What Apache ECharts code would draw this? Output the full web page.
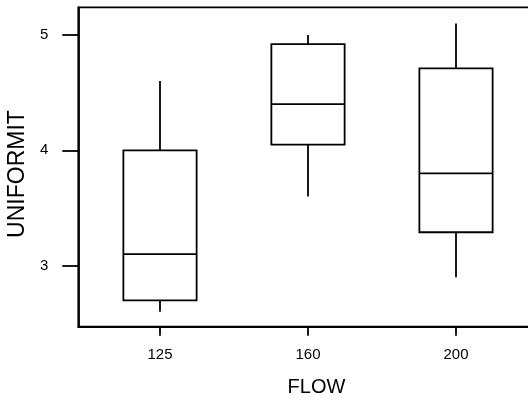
<!DOCTYPE html>
<html>
<head>
<meta charset="utf-8">
<style>
  html, body { margin: 0; padding: 0; background: #fff; }
  #chart { width: 528px; height: 398px; }
</style>
<script src="https://cdn.jsdelivr.net/npm/echarts@6/dist/echarts.min.js"></script>
</head>
<body>
<div id="chart"></div>
<script>
// FLOW groups and the five-number summary of UNIFORMIT in each group
const flows = ['125', '160', '200'];
const lowWhisker = [2.6, 3.6, 2.9];
const q1 = [2.7, 4.05, 3.29];
const median = [3.1, 4.4, 3.8];
const q3 = [4.0, 4.92, 4.71];
const highWhisker = [4.6, 5.0, 5.1];
const yTicks = [3, 4, 5];

const FONT = '"Liberation Sans", Arial, Helvetica, sans-serif';
const INK = '#000';
const LW = 1.8;

const boxData = flows.map((f, i) => [i, lowWhisker[i], q1[i], median[i], q3[i], highWhisker[i]]);

function renderBox(params, api) {
  const x = api.value(0);
  const half = api.size([0.495, 0])[0] / 2;
  const pMin = api.coord([x, api.value(1)]);
  const pQ1 = api.coord([x, api.value(2)]);
  const pMed = api.coord([x, api.value(3)]);
  const pQ3 = api.coord([x, api.value(4)]);
  const pMax = api.coord([x, api.value(5)]);
  const cx = pMed[0];
  const style = { stroke: INK, lineWidth: LW, fill: null };
  return {
    type: 'group',
    children: [
      { type: 'rect', shape: { x: cx - half, y: pQ3[1], width: half * 2, height: pQ1[1] - pQ3[1] }, style: style },
      { type: 'line', shape: { x1: cx - half, y1: pMed[1], x2: cx + half, y2: pMed[1] }, style: style },
      { type: 'line', shape: { x1: cx, y1: pQ3[1], x2: cx, y2: pMax[1] }, style: style },
      { type: 'line', shape: { x1: cx, y1: pQ1[1], x2: cx, y2: pMin[1] }, style: style }
    ]
  };
}

const chart = echarts.init(document.getElementById('chart'), null, { renderer: 'canvas' });
chart.setOption({
  animation: false,
  backgroundColor: '#fff',
  grid: {
    left: 78.3, top: 7.3, width: 459.4, height: 319.4,
    containLabel: false,
    outerBoundsMode: 'none',
    show: true, borderColor: INK, borderWidth: LW, backgroundColor: 'transparent'
  },
  xAxis: {
    type: 'value',
    min: -0.552, max: 2.552,
    splitLine: { show: false },
    axisLine: { show: true, onZero: false, lineStyle: { color: INK, width: LW } },
    axisTick: { show: true, length: 9, inside: false, customValues: [0, 1, 2], lineStyle: { color: INK, width: LW } },
    axisLabel: {
      customValues: [0, 1, 2],
      formatter: v => flows[Math.round(v)],
      color: INK, fontFamily: FONT, fontSize: 15, margin: 21
    },
    name: 'FLOW',
    nameLocation: 'middle',
    nameGap: 51,
    nameTextStyle: { color: INK, fontFamily: FONT, fontSize: 20, padding: [0, 0, 0, 17] }
  },
  yAxis: {
    type: 'value',
    min: 2.471, max: 5.240,
    splitLine: { show: false },
    axisLine: { show: true, onZero: false, lineStyle: { color: INK, width: LW } },
    axisTick: { show: true, length: 16, inside: false, customValues: yTicks, lineStyle: { color: INK, width: LW } },
    axisLabel: {
      customValues: yTicks,
      color: INK, fontFamily: FONT, fontSize: 15, margin: 30
    },
    name: 'UNIFORMIT',
    nameLocation: 'middle',
    nameGap: 47,
    nameTextStyle: { color: INK, fontFamily: FONT, fontSize: 23, padding: [0, 14, 0, 0] }
  },
  series: [{
    type: 'custom',
    renderItem: renderBox,
    data: boxData,
    encode: { x: 0, y: [1, 2, 3, 4, 5] },
    clip: false
  }]
});
</script>
</body>
</html>
